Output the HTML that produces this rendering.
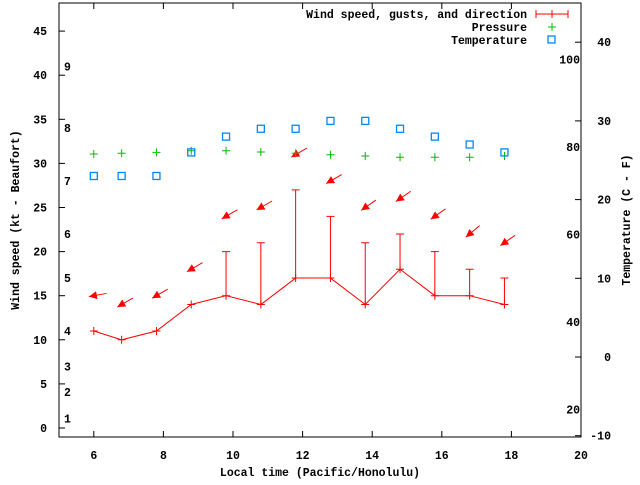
<!DOCTYPE html>
<html><head><meta charset="utf-8"><style>
body{margin:0;background:#fff}
svg text{font-family:"Liberation Mono",monospace;font-weight:bold;font-size:11.5px;fill:#000}
</style></head><body>
<svg id="chart" width="640" height="480" viewBox="0 0 640 480" xmlns="http://www.w3.org/2000/svg">
<rect x="59" y="3" width="522" height="434" fill="none" stroke="#000"/>
<g id="axes"></g><g id="marks"></g>
<text x="320" y="476" text-anchor="middle">Local time (Pacific/Honolulu)</text>
<text transform="translate(19,220) rotate(-90)" text-anchor="middle">Wind speed (kt - Beaufort)</text>
<text transform="translate(630,220) rotate(-90)" text-anchor="middle">Temperature (C - F)</text>
<g>
<text x="527" y="18" text-anchor="end">Wind speed, gusts, and direction</text>
<path d="M536 14H568M536 10V18M568 10V18M552 10V18" stroke="#f00"/>
<text x="527" y="31" text-anchor="end">Pressure</text>
<path d="M548 27H556M552 23V31" stroke="#0b0"/>
<text x="527" y="44" text-anchor="end">Temperature</text>
<rect x="548" y="36" width="7" height="7" fill="none" stroke="#08f" stroke-width="1.3"/>
</g>
</svg>
<script>
const times=[6,6.8,7.8,8.8,9.8,10.8,11.8,12.8,13.8,14.8,15.8,16.8,17.8];
const windSpeed=[11,10,11,14,15,14,17,17,14,18,15,15,14];
const gusts=[null,null,null,null,20,21,27,24,21,22,20,18,17];
const arrowHeight=[15,14,15,18,24,25,31,28,25,26,24,22,21];
const windDir=[80,60,60,60,60,60,60,60,55,55,55,50,55];
const pressure=[1016.0,1016.2,1016.4,1016.8,1016.8,1016.5,1016.2,1015.8,1015.5,1015.2,1015.2,1015.2,1015.5];
const tempC=[23,23,23,26,28,29,29,30,30,29,28,27,26];
const xTicks=[6,8,10,12,14,16,18,20];
const yTicks=[0,5,10,15,20,25,30,35,40,45];
const cTicks=[-10,0,10,20,30,40];
const fTicks=[20,40,60,80,100];
const beaufort=[[1,1.1],[2,4.1],[3,7],[4,11],[5,17],[6,22],[7,28],[8,34],[9,41]];
const NS='http://www.w3.org/2000/svg';
const X=v=>59+(v-5)*(522/15);
const Y=v=>428-v*8.82;
const TC=c=>357-c*7.87;
const TF=f=>TC((f-32)*5/9);
const P=p=>154-(p-1016)*4;
const ax=document.getElementById('axes'),mk=document.getElementById('marks');
function el(t,a,p,txt){const e=document.createElementNS(NS,t);for(const k in a)e.setAttribute(k,a[k]);if(txt!=null)e.textContent=txt;p.appendChild(e);return e;}
xTicks.forEach(t=>{const x=X(t);
 const l=el('path',{d:`M${x} 437V431M${x} 3V9`,stroke:'#000'},ax);
 
 
 const tx=el('text',{x:x,y:459,'text-anchor':'middle'},ax,t);
 
 });
yTicks.forEach(t=>{const y=Y(t);
 const l=el('path',{d:`M59 ${y}H65`,stroke:'#000'},ax);
 
 
 const tx=el('text',{x:47,y:y+4,'text-anchor':'end'},ax,t);
 
 });
beaufort.forEach(b=>{const tx=el('text',{x:64,y:Y(b[1])+4},ax,b[0]);
 
 });
cTicks.forEach(t=>{const y=TC(t);
 const l=el('path',{d:`M581 ${y}H575`,stroke:'#000'},ax);
 
 
 const tx=el('text',{x:611,y:y+4,'text-anchor':'end'},ax,t);
 
 });
fTicks.forEach(t=>{const y=TF(t);
 const tx=el('text',{x:580,y:y+4,'text-anchor':'end'},ax,t);
 
 });
const line=el('polyline',{points:times.map((t,i)=>X(t)+','+Y(windSpeed[i])).join(' '),fill:'none',stroke:'#f00'},mk);


times.forEach((t,i)=>{const x=X(t),y=Y(windSpeed[i]);
 const p=el('path',{d:`M${x-4} ${y}H${x+4}M${x} ${y-4}V${y+4}`,stroke:'#f00'},mk);
 
 
 if(gusts[i]!=null){const g=Y(gusts[i]);
  const e=el('path',{d:`M${x} ${y}V${g}M${x-4} ${g}H${x+4}`,stroke:'#f00'},mk);
  
  }
 const ay=Y(arrowHeight[i]),a=windDir[i]*Math.PI/180;
 const dx=Math.sin(a),dy=-Math.cos(a);
 const hx=x-dx*5,hy=ay-dy*5,tx=x+dx*13,ty=ay+dy*13;
 const px=-dy,py=dx;
 const g=el('g',{},mk);
 
 
 el('line',{x1:hx,y1:hy,x2:tx,y2:ty,stroke:'#f00'},g);
 const bx=hx+dx*8,by=hy+dy*8;
 el('polygon',{points:`${hx},${hy} ${bx+px*4},${by+py*4} ${bx-px*4},${by-py*4}`,fill:'#f00'},g);
 const pp=P(pressure[i]);
 const pe=el('path',{d:`M${x-4} ${pp}H${x+4}M${x} ${pp-4}V${pp+4}`,stroke:'#0b0'},mk);
 
 
 const tc=TC(tempC[i]);
 const te=el('rect',{x:x-3.5,y:tc-3.5,width:7,height:7,fill:'none',stroke:'#08f','stroke-width':1.3},mk);
 
 
});
</script>
</body></html>
